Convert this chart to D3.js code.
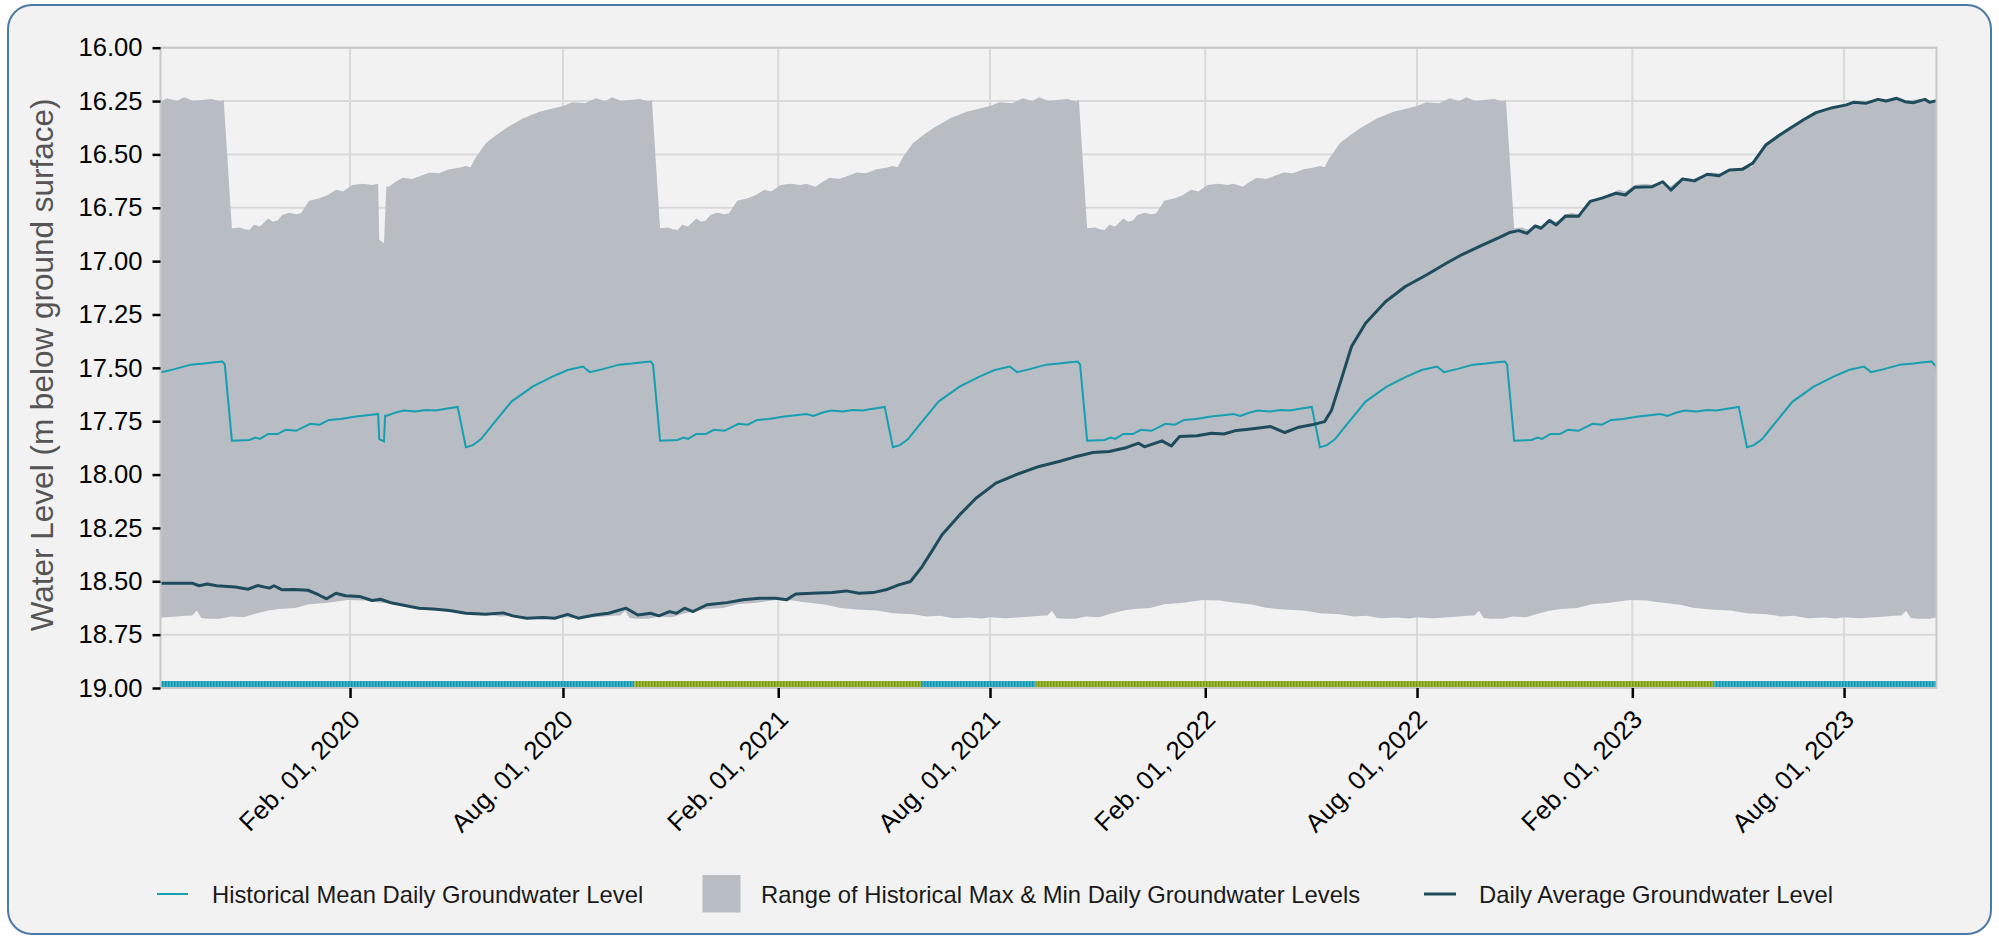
<!DOCTYPE html>
<html>
<head>
<meta charset="utf-8">
<script src="https://cdn.jsdelivr.net/npm/d3@7/dist/d3.min.js"></script>
<style>
  html, body { margin: 0; padding: 0; background: #ffffff; }
  body { width: 1999px; height: 938px; overflow: hidden; font-family: "Liberation Sans", Arial, sans-serif; }
</style>
</head>
<body>
<div id="chart"></div>
<script>
// --- Data ---

// historical stats per calendar day (month-day), repeated every year
const histMax = [
  ["08-01", 16.273], ["08-09", 16.256], ["08-20", 16.26], ["08-29", 16.237], ["09-06", 16.25],
  ["09-12", 16.232], ["09-20", 16.25], ["09-27", 16.245], ["10-06", 16.24], ["10-13", 16.252],
  ["10-16", 16.245], ["10-23", 16.846], ["10-30", 16.843], ["11-03", 16.851], ["11-07", 16.854],
  ["11-11", 16.83], ["11-16", 16.838], ["11-23", 16.80], ["11-27", 16.815], ["12-01", 16.81],
  ["12-05", 16.784], ["12-11", 16.773], ["12-17", 16.78], ["12-21", 16.776], ["12-28", 16.717],
  ["01-06", 16.705], ["01-13", 16.69], ["01-20", 16.666], ["01-26", 16.674], ["02-03", 16.643],
  ["02-12", 16.638], ["02-20", 16.643], ["02-25", 16.638], ["03-05", 16.651], ["03-11", 16.628],
  ["03-17", 16.609], ["03-25", 16.615], ["03-31", 16.604], ["04-09", 16.585], ["04-17", 16.588],
  ["04-26", 16.57], ["05-04", 16.562], ["05-10", 16.554], ["05-14", 16.56], ["05-18", 16.518],
  ["05-27", 16.448], ["06-05", 16.409], ["06-13", 16.378], ["06-28", 16.331], ["07-12", 16.30]
];
const histMean = [
  ["08-05", 17.510], ["08-18", 17.494], ["08-24", 17.520], ["09-04", 17.506], ["09-18", 17.485],
  ["09-29", 17.480], ["10-08", 17.474], ["10-15", 17.470], ["10-17", 17.485], ["10-23", 17.841],
  ["11-07", 17.838], ["11-12", 17.827], ["11-16", 17.833], ["11-23", 17.810], ["12-01", 17.810],
  ["12-08", 17.790], ["12-17", 17.795], ["12-29", 17.762], ["01-06", 17.766], ["01-14", 17.744],
  ["01-24", 17.740], ["02-06", 17.728], ["02-16", 17.722], ["02-25", 17.716], ["03-03", 17.725],
  ["03-11", 17.709], ["03-18", 17.700], ["03-28", 17.705], ["04-06", 17.697], ["04-14", 17.700],
  ["04-23", 17.692], ["05-03", 17.683], ["05-10", 17.872], ["05-16", 17.862], ["05-23", 17.834],
  ["06-01", 17.772], ["06-18", 17.658], ["07-06", 17.588], ["07-23", 17.541]
];
const histMin = [
  ["08-01", 18.668], ["08-14", 18.673], ["08-24", 18.670], ["09-03", 18.666], ["09-13", 18.662],
  ["09-19", 18.660], ["09-23", 18.638], ["09-27", 18.672], ["10-03", 18.676], ["10-13", 18.676],
  ["10-22", 18.665], ["11-02", 18.668], ["11-12", 18.652], ["11-22", 18.638], ["12-02", 18.630],
  ["12-16", 18.625], ["12-28", 18.608], ["01-11", 18.602], ["01-30", 18.588], ["02-14", 18.590],
  ["02-20", 18.596], ["03-14", 18.610], ["03-25", 18.624], ["04-09", 18.632], ["04-26", 18.637],
  ["05-10", 18.650], ["05-27", 18.655], ["06-08", 18.665], ["06-19", 18.662], ["07-01", 18.673],
  ["07-15", 18.670], ["07-25", 18.674]
];
// single-year points: leap day 2020 and the last days of the record in 2023
const extraMax = [["2020-02-26", 16.90], ["2020-03-01", 16.916], ["2020-03-03", 16.65],
  ["2023-10-19", 16.248]];
const extraMean = [["2020-02-26", 17.834], ["2020-03-01", 17.845], ["2020-03-02", 17.725],
  ["2023-10-19", 17.49]];

const profileYears = [2019, 2020, 2021, 2022, 2023];

// daily average groundwater level
const dailyDates = [
  "2019-08-23", "2019-09-08", "2019-09-19", "2019-09-25", "2019-10-02", "2019-10-10", "2019-10-26",
  "2019-11-06", "2019-11-14", "2019-11-24", "2019-11-28", "2019-12-05", "2019-12-15", "2019-12-27",
  "2020-01-05", "2020-01-12", "2020-01-20", "2020-01-28", "2020-02-09", "2020-02-20", "2020-02-27",
  "2020-03-08", "2020-03-20", "2020-03-31", "2020-04-12", "2020-04-26", "2020-05-10", "2020-05-27",
  "2020-06-11", "2020-06-19", "2020-07-01", "2020-07-15", "2020-07-25", "2020-08-05", "2020-08-14",
  "2020-08-28", "2020-09-09", "2020-09-24", "2020-10-04", "2020-10-15", "2020-10-22", "2020-10-31",
  "2020-11-06", "2020-11-13", "2020-11-20", "2020-12-02", "2020-12-19", "2021-01-02", "2021-01-16",
  "2021-01-30", "2021-02-08", "2021-02-16", "2021-03-02", "2021-03-19", "2021-03-31", "2021-04-11",
  "2021-04-23", "2021-05-04", "2021-05-15", "2021-05-25", "2021-06-04", "2021-06-13", "2021-06-21",
  "2021-07-06", "2021-07-20", "2021-08-06", "2021-08-23", "2021-09-12", "2021-09-29", "2021-10-12",
  "2021-10-28", "2021-11-11", "2021-11-26", "2021-12-06", "2021-12-11", "2021-12-26", "2022-01-03",
  "2022-01-10", "2022-01-25", "2022-02-06", "2022-02-17", "2022-02-26", "2022-03-12", "2022-03-29",
  "2022-04-10", "2022-04-22", "2022-05-03", "2022-05-14", "2022-05-20", "2022-05-29", "2022-06-06",
  "2022-06-18", "2022-07-05", "2022-07-22", "2022-08-09", "2022-08-26", "2022-09-09", "2022-09-23",
  "2022-10-10", "2022-10-19", "2022-10-27", "2022-11-03", "2022-11-10", "2022-11-15", "2022-11-22",
  "2022-11-28", "2022-12-06", "2022-12-17", "2022-12-27", "2023-01-06", "2023-01-18", "2023-01-26",
  "2023-02-03", "2023-02-18", "2023-02-27", "2023-03-06", "2023-03-16", "2023-03-26", "2023-04-06",
  "2023-04-16", "2023-04-25", "2023-05-06", "2023-05-15", "2023-05-26", "2023-06-07", "2023-06-18",
  "2023-06-27", "2023-07-08", "2023-07-22", "2023-08-03", "2023-08-09", "2023-08-20", "2023-08-30",
  "2023-09-06", "2023-09-15", "2023-09-22", "2023-09-29", "2023-10-09", "2023-10-13", "2023-10-19"
];
const dailyLevels = [
  18.509, 18.509, 18.509, 18.521, 18.513, 18.521, 18.527,
  18.537, 18.520, 18.532, 18.521, 18.540, 18.538, 18.542,
  18.563, 18.582, 18.556, 18.568, 18.571, 18.590, 18.584,
  18.602, 18.615, 18.626, 18.630, 18.637, 18.650, 18.655,
  18.648, 18.662, 18.673, 18.670, 18.673, 18.655, 18.673,
  18.658, 18.650, 18.626, 18.658, 18.650, 18.662, 18.642,
  18.650, 18.626, 18.642, 18.610, 18.600, 18.587, 18.579,
  18.579, 18.587, 18.560, 18.556, 18.553, 18.545, 18.556,
  18.553, 18.540, 18.517, 18.501, 18.431, 18.353, 18.282,
  18.189, 18.111, 18.040, 18.001, 17.962, 17.939, 17.918,
  17.897, 17.892, 17.873, 17.853, 17.870, 17.842, 17.866,
  17.822, 17.818, 17.806, 17.810, 17.795, 17.786, 17.775,
  17.803, 17.778, 17.767, 17.752, 17.697, 17.541, 17.400,
  17.291, 17.190, 17.119, 17.065, 17.010, 16.968, 16.932,
  16.890, 16.866, 16.857, 16.870, 16.835, 16.846, 16.810,
  16.830, 16.788, 16.790, 16.720, 16.705, 16.682, 16.690,
  16.654, 16.651, 16.628, 16.667, 16.615, 16.624, 16.593,
  16.600, 16.573, 16.570, 16.541, 16.456, 16.409, 16.370,
  16.339, 16.304, 16.281, 16.268, 16.256, 16.260, 16.242,
  16.250, 16.237, 16.253, 16.258, 16.242, 16.256, 16.248
];

// status strip along the bottom of the plot
const stripStarts = ["2019-08-23", "2020-10-01", "2021-06-03", "2021-09-09", "2023-04-12"];
const stripEnds = ["2020-10-01", "2021-06-03", "2021-09-09", "2023-04-12", "2023-10-19"];
const stripKinds = ["blue", "green", "blue", "green", "blue"];

const xDomain = ["2019-08-23", "2023-10-19"];
const xTickDates = ["2020-02-01", "2020-08-01", "2021-02-01", "2021-08-01", "2022-02-01",
  "2022-08-01", "2023-02-01", "2023-08-01"];
const yTicks = [16, 16.25, 16.5, 16.75, 17, 17.25, 17.5, 17.75, 18, 18.25, 18.5, 18.75, 19];

const legendLabels = ["Historical Mean Daily Groundwater Level",
  "Range of Historical Max & Min Daily Groundwater Levels",
  "Daily Average Groundwater Level"];

// --- Setup ---
const W = 1999, H = 938;
const plot = { left: 160.5, right: 1936.5, top: 47.7, bottom: 688 };
const colors = {
  band: "#b8bcc3", mean: "#169fb1", daily: "#1f4c5c",
  grid: "#d9d9d9", frame: "#4b7aa8", bg: "#f2f2f2"
};
const stripColors = { blue: ["#40b2c9", "#1597b0"], green: ["#9db83c", "#7c9a12"] };

const parse = d3.utcParse("%Y-%m-%d");

function expandProfile(profile, extra) {
  const pts = [];
  profileYears.forEach(yr => profile.forEach(([md, v]) => pts.push([parse(`${yr}-${md}`), v])));
  extra.forEach(([d, v]) => pts.push([parse(d), v]));
  return pts.sort((a, b) => a[0] - b[0]);
}

const maxPts = expandProfile(histMax, extraMax);
const minPts = expandProfile(histMin, []);
const meanPts = expandProfile(histMean, extraMean);
const dailyPts = dailyDates.map((d, i) => [parse(d), dailyLevels[i]]);

const x = d3.scaleUtc().domain(xDomain.map(parse)).range([plot.left, plot.right]);
const y = d3.scaleLinear().domain([16, 19]).range([plot.top, plot.bottom]);

const svg = d3.select("#chart").append("svg")
  .attr("width", W).attr("height", H)
  .style("font-family", '"Liberation Sans", Arial, sans-serif');

// frame
svg.append("rect")
  .attr("x", 8).attr("y", 5).attr("width", 1983).attr("height", 929)
  .attr("rx", 24).attr("ry", 24)
  .attr("fill", colors.bg).attr("stroke", colors.frame).attr("stroke-width", 2);

const defs = svg.append("defs");
defs.append("clipPath").attr("id", "plotClip")
  .append("rect")
  .attr("x", plot.left).attr("y", plot.top)
  .attr("width", plot.right - plot.left).attr("height", plot.bottom - plot.top);

// stripe patterns for the status strip
Object.entries(stripColors).forEach(([k, [light, dark]]) => {
  const p = defs.append("pattern").attr("id", "strip-" + k)
    .attr("patternUnits", "userSpaceOnUse").attr("width", 3).attr("height", 8);
  p.append("rect").attr("width", 3).attr("height", 8).attr("fill", light);
  p.append("rect").attr("width", 1.4).attr("height", 8).attr("fill", dark);
});

// gridlines
const grid = svg.append("g");
grid.selectAll("line.h").data(yTicks).join("line")
  .attr("x1", plot.left).attr("x2", plot.right)
  .attr("y1", d => y(d)).attr("y2", d => y(d))
  .attr("stroke", colors.grid).attr("stroke-width", 2);
grid.selectAll("line.v").data(xTickDates.map(parse)).join("line")
  .attr("x1", d => x(d)).attr("x2", d => x(d))
  .attr("y1", plot.top).attr("y2", plot.bottom)
  .attr("stroke", colors.grid).attr("stroke-width", 2);

const g = svg.append("g").attr("clip-path", "url(#plotClip)");

const line = d3.line().x(d => x(d[0])).y(d => y(d[1]));

// band: max edge forward, min edge backward
g.append("path")
  .attr("d", line(maxPts.concat(minPts.slice().reverse())) + "Z")
  .attr("fill", colors.band);

g.append("path").attr("d", line(meanPts))
  .attr("fill", "none").attr("stroke", colors.mean).attr("stroke-width", 2);

g.append("path").attr("d", line(dailyPts))
  .attr("fill", "none").attr("stroke", colors.daily).attr("stroke-width", 3)
  .attr("stroke-linejoin", "round");

// plot border
svg.append("rect")
  .attr("x", plot.left).attr("y", plot.top)
  .attr("width", plot.right - plot.left).attr("height", plot.bottom - plot.top)
  .attr("fill", "none").attr("stroke", "#c8c8c8").attr("stroke-width", 2);

// status strip
g.selectAll("rect.strip").data(stripKinds).join("rect")
  .attr("x", (d, i) => x(parse(stripStarts[i])))
  .attr("width", (d, i) => x(parse(stripEnds[i])) - x(parse(stripStarts[i])))
  .attr("y", plot.bottom - 7).attr("height", 6)
  .attr("fill", d => `url(#strip-${d})`);

// y axis
const yAxis = svg.append("g").attr("transform", `translate(${plot.left},0)`)
  .call(d3.axisLeft(y).tickValues(yTicks).tickFormat(d3.format(".2f")).tickSize(8).tickPadding(10));
yAxis.select(".domain").remove();
yAxis.selectAll(".tick line").attr("stroke", "#000").attr("stroke-width", 2.5);
yAxis.selectAll(".tick text").attr("fill", "#000")
  .style("font-size", "25.6px").style("font-family", '"Liberation Sans", Arial, sans-serif');

// x axis
const xAxis = svg.append("g").attr("transform", `translate(0,${plot.bottom})`)
  .call(d3.axisBottom(x).tickValues(xTickDates.map(parse))
    .tickFormat(d3.utcFormat("%b. %d, %Y")).tickSize(10));
xAxis.select(".domain").remove();
xAxis.selectAll(".tick line").attr("stroke", "#000").attr("stroke-width", 2.5);
xAxis.selectAll(".tick text")
  .attr("fill", "#000").attr("y", null).attr("dy", null)
  .attr("text-anchor", "end")
  .attr("transform", "translate(11,33) rotate(-45)")
  .style("font-size", "25.6px").style("font-family", '"Liberation Sans", Arial, sans-serif');

// y axis title
svg.append("text")
  .attr("transform", `translate(53,${(plot.top + plot.bottom) / 2 - 3}) rotate(-90)`)
  .attr("text-anchor", "middle")
  .attr("fill", "#555")
  .style("font-size", "31.5px")
  .text("Water Level (m below ground surface)");

// legend
const legY = 894;
const leg = svg.append("g").style("font-size", "23.8px").attr("fill", "#1a1a1a");
leg.append("line").attr("x1", 157).attr("x2", 188).attr("y1", legY).attr("y2", legY)
  .attr("stroke", colors.mean).attr("stroke-width", 2);
leg.append("text").attr("x", 212).attr("y", legY + 9).text(legendLabels[0]);
leg.append("rect").attr("x", 702.5).attr("y", 875).attr("width", 38).attr("height", 37.5)
  .attr("fill", colors.band);
leg.append("text").attr("x", 761).attr("y", legY + 9).text(legendLabels[1]);
leg.append("line").attr("x1", 1424).attr("x2", 1456).attr("y1", legY).attr("y2", legY)
  .attr("stroke", colors.daily).attr("stroke-width", 3);
leg.append("text").attr("x", 1479).attr("y", legY + 9).text(legendLabels[2]);
</script>
</body>
</html>
